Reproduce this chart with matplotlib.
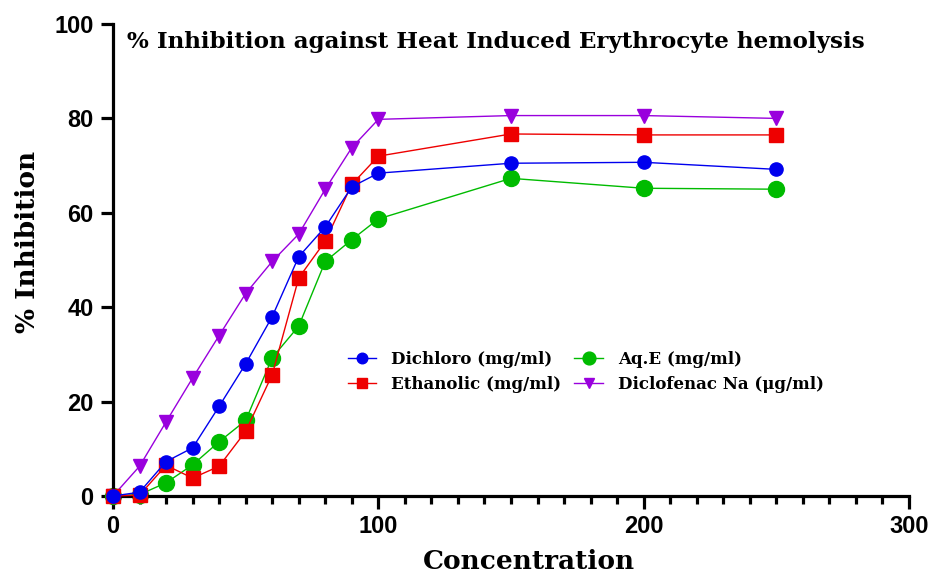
import numpy as np
import matplotlib.pyplot as plt
from matplotlib.ticker import MultipleLocator

conc = [0, 10, 20, 30, 40, 50, 60, 70, 80, 90, 100, 150, 200, 250]
dichloro = [0, 0.8, 7.3, 10.2, 19.0, 28.0, 38.0, 50.7, 57.0, 65.5, 68.4, 70.5, 70.7, 69.2]
ethanolic = [0, 0.2, 6.5, 3.8, 6.3, 13.7, 25.7, 46.2, 54.0, 66.0, 72.0, 76.7, 76.5, 76.5]
aqe = [0, 0.3, 2.8, 6.6, 11.5, 16.0, 29.3, 36.0, 49.7, 54.3, 58.7, 67.3, 65.2, 65.0]
diclofenac = [0, 6.3, 15.7, 25.0, 34.0, 42.9, 49.7, 55.5, 65.0, 73.8, 79.8, 80.6, 80.6, 80.0]

labels = ["Dichloro (mg/ml)", "Ethanolic (mg/ml)", "Aq.E (mg/ml)", "Diclofenac Na (\u03bcg/ml)"]

serif = "DejaVu Serif"
sans = "Liberation Sans"

fig = plt.figure(figsize=(9.32, 5.79), dpi=100)
ax = fig.add_axes([113/932, 83/579, (909-113)/932, (496-24)/579])

ax.plot(conc, dichloro, color="#0000ee", lw=1, marker="o", ms=9.5, label=labels[0], clip_on=False, zorder=4)
ax.plot(conc, ethanolic, color="#ee0000", lw=1, marker="s", ms=9.5, label=labels[1], clip_on=False, zorder=3)
ax.plot(conc, aqe, color="#00bb00", lw=1, marker="o", ms=11.5, label=labels[2], clip_on=False, zorder=2)
ax.plot(conc, diclofenac, color="#9900dd", lw=1, marker="v", ms=9.5, label=labels[3], clip_on=False, zorder=1)

ax.set_xlim(0, 300)
ax.set_ylim(0, 100)
ax.xaxis.set_major_locator(MultipleLocator(100))
ax.xaxis.set_minor_locator(MultipleLocator(10))
ax.yaxis.set_major_locator(MultipleLocator(20))

for s in ["top", "right"]:
    ax.spines[s].set_visible(False)
for s in ["left", "bottom"]:
    ax.spines[s].set_linewidth(2.3)

ax.tick_params(which="major", length=9, width=2.3, labelsize=17, pad=5)
ax.tick_params(which="minor", length=6, width=2.3)
for t in ax.get_xticklabels() + ax.get_yticklabels():
    t.set_fontfamily(sans)
    t.set_fontweight("bold")

ax.set_xlabel("Concentration", fontfamily=serif, fontweight="bold", fontsize=19)
ax.set_ylabel("% Inhibition", fontfamily=serif, fontweight="bold", fontsize=19)
ax.xaxis.set_label_coords((529-113)/796, -0.112)
ax.yaxis.set_label_coords(-0.092, (496-242)/472)
ax.text(0.017, 0.985, "% Inhibition against Heat Induced Erythrocyte hemolysis",
        transform=ax.transAxes, fontfamily=serif, fontweight="bold", fontsize=16.6, va="top")

ax.legend(ncol=2, frameon=False, loc="center left", bbox_to_anchor=(0.276, 0.263),
          prop={"family": serif, "weight": "bold", "size": 12},
          handlelength=1.7, columnspacing=0.8, handletextpad=0.9, labelspacing=0.5, markerscale=0.8)

fig.savefig("out.png", dpi=100)
